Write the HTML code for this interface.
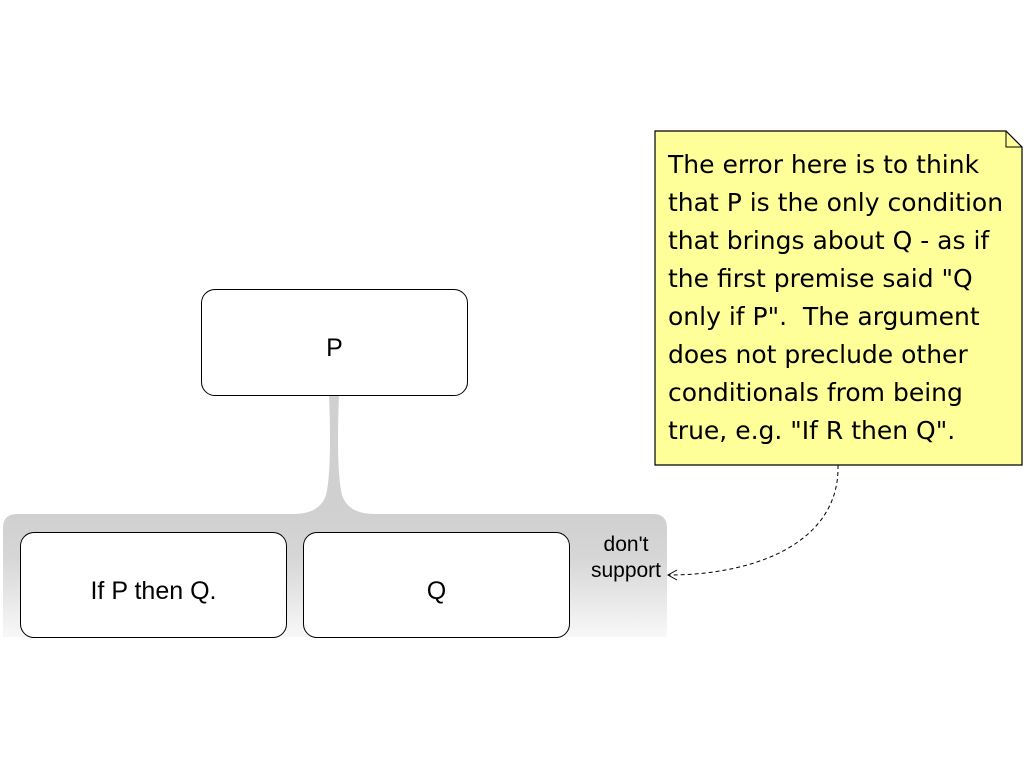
<!DOCTYPE html>
<html><head><style>
body{margin:0;width:1024px;height:768px;background:#fff;position:relative;overflow:hidden;font-family:"Liberation Sans",sans-serif}
.b{position:absolute;background:#fff;border:1.5px solid #000;border-radius:14px;box-sizing:border-box;display:flex;align-items:center;justify-content:center;font-size:25px;padding-top:12px}
</style></head><body>
<svg width="1024" height="768" style="position:absolute;left:0;top:0">
<defs><linearGradient id="g" x1="0" y1="0" x2="0" y2="1"><stop offset="0" stop-color="#d0d0d0"/><stop offset="0.35" stop-color="#d6d6d6"/><stop offset="1" stop-color="#f8f8f8"/></linearGradient></defs>
<path d="M3 637 L3 528 Q3 514 17 514 L653 514 Q667 514 667 528 L667 637 Z" fill="url(#g)"/>
<path d="M329 395 L339 395 Q336 470 342 495 Q348 514 375 514 L293 514 Q320 514 326 495 Q332 470 329 395 Z" fill="#d0d0d0"/>
<path d="M655 131 L1006 131 L1022 147 L1022 465 L655 465 Z" fill="#ffff99" stroke="#000" stroke-width="1.2"/>
<path d="M1006 131 L1006 147 L1022 147" fill="none" stroke="#000" stroke-width="1"/>
<path d="M838 465 C840 540 760 575 668 575" fill="none" stroke="#000" stroke-dasharray="4,3" stroke-width="1"/>
<path d="M677 570 L668 575 L677 580" fill="none" stroke="#000" stroke-width="1"/>
</svg>
<div class="b" style="left:201px;top:289px;width:267px;height:107px">P</div>
<div class="b" style="left:20px;top:532px;width:267px;height:106px">If P then Q.</div>
<div class="b" style="left:303px;top:532px;width:267px;height:106px">Q</div>
<div style="position:absolute;left:582px;top:532px;width:88px;text-align:center;font-size:21px;line-height:26px">don't<br>support</div>
<div style="position:absolute;left:668px;top:146px;width:350px;font-family:'Comic Sans MS','DejaVu Sans',sans-serif;font-size:25px;line-height:38px;white-space:nowrap">The error here is to think<br>that P is the only condition<br>that brings about Q - as if<br>the first premise said "Q<br>only if P".&nbsp; The argument<br>does not preclude other<br>conditionals from being<br>true, e.g. "If R then Q".</div>
</body></html>
